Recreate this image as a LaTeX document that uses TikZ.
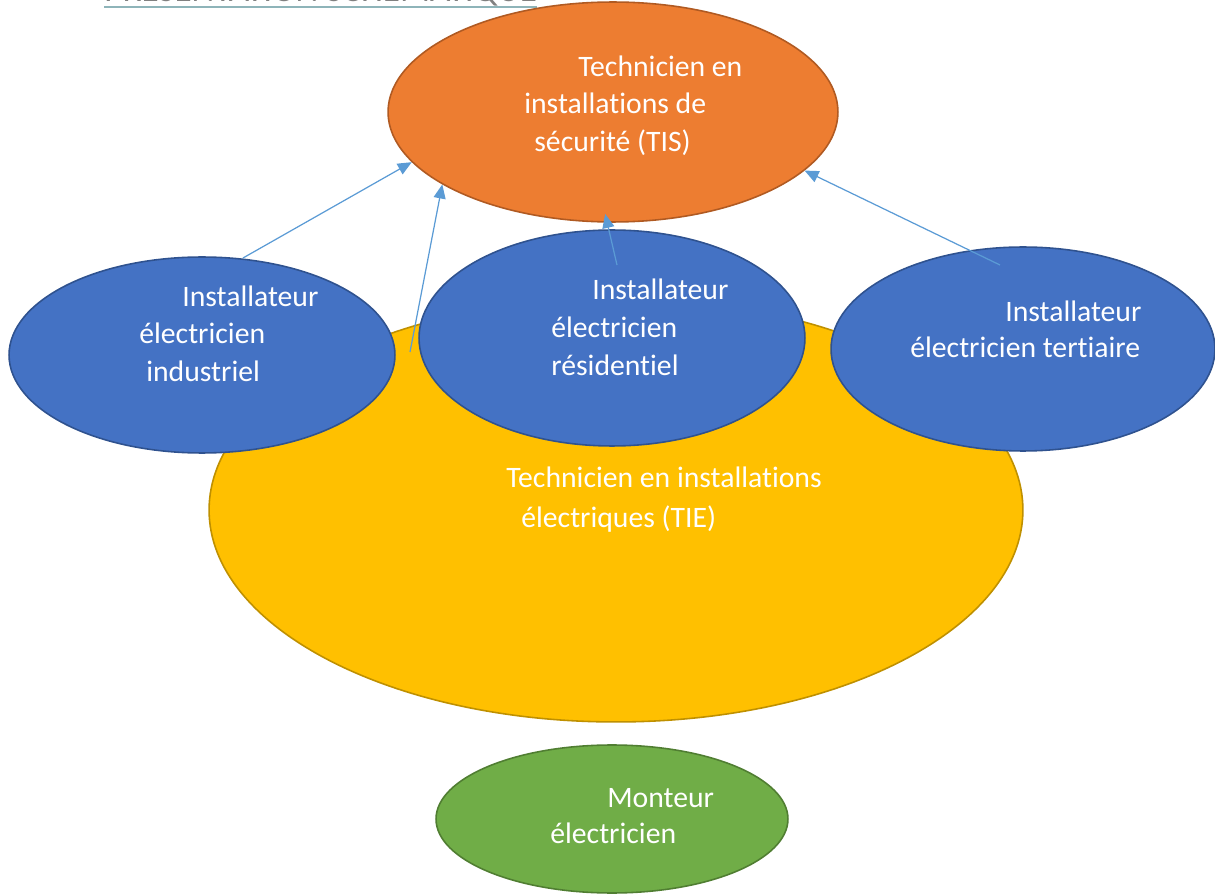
\documentclass[tikz,border=0pt]{standalone}
\usepackage{fontspec}
\setmainfont{Carlito}[Ligatures=NoCommon]
\usetikzlibrary{arrows.meta, shapes.geometric}
\definecolor{tisfill}{HTML}{ED7D31}
\definecolor{tisline}{HTML}{B05A22}
\definecolor{tiefill}{HTML}{FFC000}
\definecolor{tieline}{HTML}{BF9000}
\definecolor{instfill}{HTML}{4472C4}
\definecolor{instline}{HTML}{2F528F}
\definecolor{montfill}{HTML}{70AD47}
\definecolor{montline}{HTML}{507E32}
\definecolor{arrowblue}{HTML}{5B9BD5}
\definecolor{titlegray}{HTML}{808080}
\definecolor{titleline}{HTML}{8EB4B9}
\tikzset{
	blob/.style={draw, ellipse, line width=0.9pt, inner sep=0pt},
	blobtext/.style={anchor=base west, inner sep=0pt, text=white, font=\fontsize{16.9}{20}\selectfont},
	linkarr/.style={-{Triangle[length=0.28cm, width=0.24cm]}, draw=arrowblue, line width=0.7pt},
}
\begin{document}
\begin{tikzpicture}[x=0.02cm, y=-0.02cm]
	\useasboundingbox (0,0) rectangle (1215,895);
	% Title, cut by the page edge
	\node[anchor=base west, inner sep=0pt, text=titlegray, font=\fontsize{20}{24}\selectfont] (title) at (104,2) {PRÉSENTATION SCHÉMATIQUE};
	\draw[titleline, line width=1.6pt] ([yshift=-0.1cm]title.base west) -- ([yshift=-0.1cm]title.base east);
	% Ellipses
	\node[blob, fill=tisfill, draw=tisline, minimum width=9cm, minimum height=4.4cm] (tis) at (613,112) {};
	\node[blob, fill=tiefill, draw=tieline, minimum width=16.28cm, minimum height=8.48cm] (tie) at (616,510) {};
	\node[blob, fill=instfill, draw=instline, minimum width=7.72cm, minimum height=3.92cm] (ind) at (202,355) {};
	\node[blob, fill=instfill, draw=instline, minimum width=7.72cm, minimum height=4.32cm] (res) at (612,338) {};
	\node[blob, fill=instfill, draw=instline, minimum width=7.68cm, minimum height=4.08cm] (ter) at (1023,349) {};
	\node[blob, fill=montfill, draw=montline, minimum width=7.04cm, minimum height=2.96cm] (mont) at (612,819) {};
	% Texts
	\node[blobtext] (tisA) at (578,77) {Technicien en};
	\node[blobtext] (tisB) at (524,114) {installations de};
	\node[blobtext] (tisC) at (534,152) {sécurité (TIS)};
	\node[blobtext] (indA) at (182,307) {Installateur};
	\node[blobtext] (indB) at (139,344) {électricien};
	\node[blobtext] (indC) at (146,382) {industriel};
	\node[blobtext] (resA) at (592,300) {Installateur};
	\node[blobtext] (resB) at (551,338) {électricien};
	\node[blobtext] (resC) at (551,376) {résidentiel};
	\node[blobtext] (terA) at (1005,322) {Installateur};
	\node[blobtext] (terB) at (910,358) {électricien tertiaire};
	\node[blobtext] (tieA) at (506,488) {Technicien en installations};
	\node[blobtext] (tieB) at (521,527) {électriques (TIE)};
	\node[blobtext] (montA) at (607,807) {Monteur};
	\node[blobtext] (montB) at (550,843) {électricien};
	% Arrows
	\coordinate (indtail) at (243,258);
	\coordinate (tietail) at (410,352);
	\coordinate (restail) at (617,265);
	\coordinate (tertail) at (1000,265);
	\draw[linkarr] (indtail) -- (tis.194);
	\draw[linkarr] (tietail) -- (tis.203);
	\draw[linkarr, shorten >=-0.18cm] (restail) -- (tis.267);
	\draw[linkarr] (tertail) -- (tis.343);
\end{tikzpicture}
\end{document}
